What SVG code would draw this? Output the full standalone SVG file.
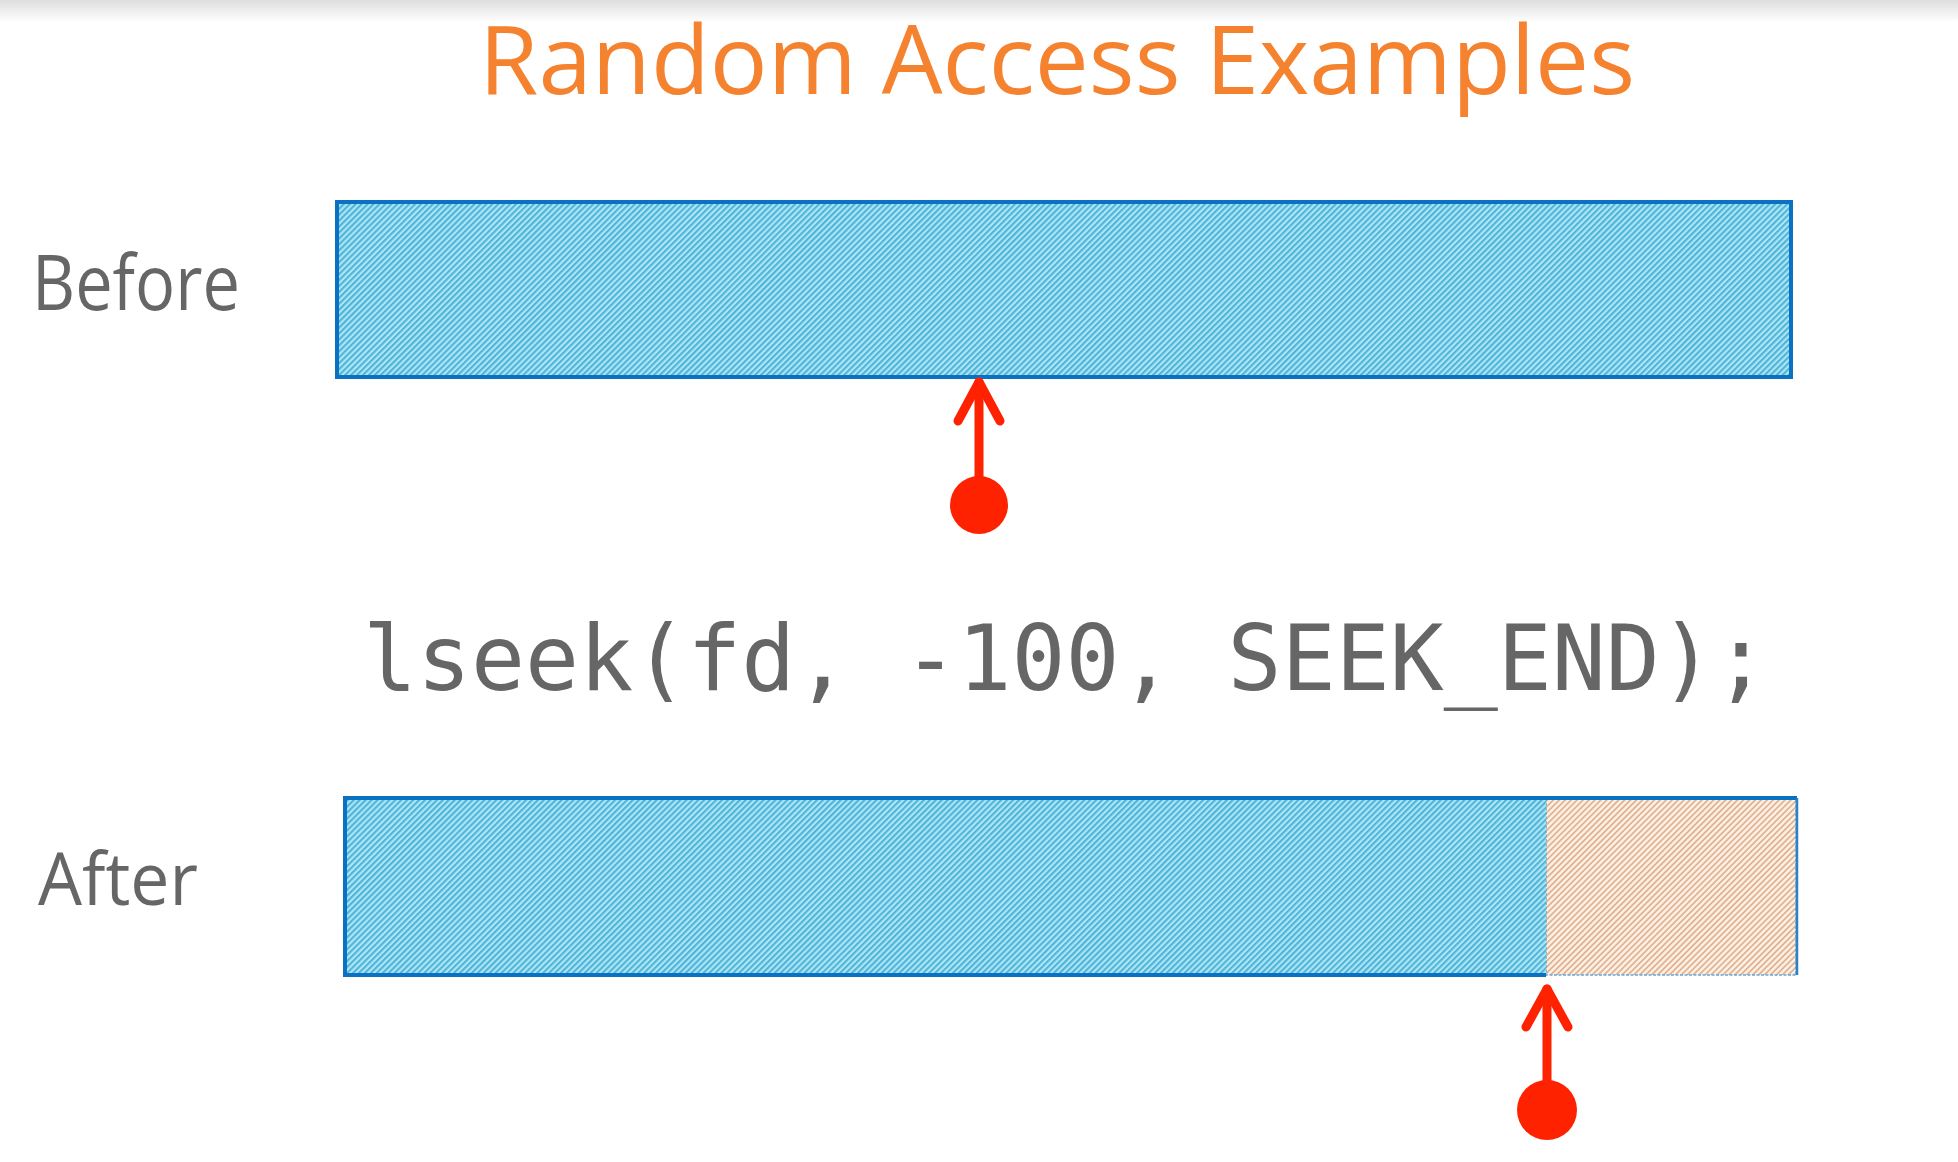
<svg xmlns="http://www.w3.org/2000/svg" width="1958" height="1162" viewBox="0 0 1958 1162">
  <defs>
    <linearGradient id="topfade" x1="0" y1="0" x2="0" y2="1">
      <stop offset="0" stop-color="#dedede"/>
      <stop offset="1" stop-color="#ffffff"/>
    </linearGradient>
    <pattern id="hatchBlue" width="4.2" height="4.2" patternUnits="userSpaceOnUse" patternTransform="rotate(45)">
      <rect width="4.2" height="4.2" fill="#aee6f4"/>
      <rect width="2.1" height="4.2" fill="#4fb4da"/>
    </pattern>
    <pattern id="hatchTan" width="4.2" height="4.2" patternUnits="userSpaceOnUse" patternTransform="rotate(45)">
      <rect width="4.2" height="4.2" fill="#fdefe2"/>
      <rect width="1.7" height="4.2" fill="#deb293"/>
    </pattern>
  </defs>
  <style>
    .label { font-family: "Open Sans", "Noto Sans", sans-serif; fill: #666666; }
    .code { font-family: "DejaVu Sans Mono", "Liberation Mono", monospace; fill: #666666; }
    .bar { stroke: #0a72c0; stroke-width: 4; }
    .edge { stroke: #0a72c0; stroke-width: 4; fill: none; stroke-linejoin: miter; }
    .ptr { stroke: #ff2200; stroke-width: 9; fill: none; stroke-linecap: round; stroke-linejoin: round; }
    .dot { fill: #ff2200; }
  </style>
  <rect width="1958" height="1162" fill="#ffffff"/>
  <rect width="1958" height="22" fill="url(#topfade)"/>

  <text id="title" x="1057" y="94" text-anchor="middle" font-family="'Open Sans', 'Noto Sans', sans-serif" font-size="96" fill="#f5822f" textLength="1156" lengthAdjust="spacingAndGlyphs">Random Access Examples</text>

  <g id="before-label"><text class="label" x="32" y="310" font-size="76" textLength="208" lengthAdjust="spacingAndGlyphs">Before</text></g>
  <g id="after-label"><text class="label" x="38" y="905" font-size="74" textLength="160" lengthAdjust="spacingAndGlyphs">After</text></g>

  <g id="before-bar">
    <rect class="bar" x="337" y="202" width="1454" height="175" fill="url(#hatchBlue)"/>
  </g>

  <g id="code"><text class="code" x="363" y="690" font-size="90" textLength="1405" lengthAdjust="spacingAndGlyphs">lseek(fd, -100, SEEK_END);</text></g>

  <g id="after-bar">
    <rect x="1546" y="798" width="250" height="177" fill="url(#hatchTan)" stroke="#6aa6d8" stroke-width="1.5" stroke-dasharray="3 1.5"/>
    <line x1="1546" y1="798" x2="1797" y2="798" stroke="#0a72c0" stroke-width="4"/>
    <line x1="1797" y1="798" x2="1797" y2="975" stroke="#2a82c8" stroke-width="2.5"/>
    <rect x="345" y="798" width="1201" height="177" fill="url(#hatchBlue)"/>
    <path class="edge" d="M1546,798 H345 V975 H1546"/>
  </g>

  <g id="connectors">
    <g id="pointer-before">
      <line class="ptr" x1="979" y1="500" x2="979" y2="382"/>
      <polyline class="ptr" points="958,421 979,382 1000,421"/>
      <circle class="dot" cx="979" cy="505" r="29"/>
    </g>
    <g id="pointer-after">
      <line class="ptr" x1="1547" y1="1105" x2="1547" y2="989"/>
      <polyline class="ptr" points="1526,1027 1547,989 1568,1027"/>
      <circle class="dot" cx="1547" cy="1110" r="30"/>
    </g>
  </g>
</svg>
